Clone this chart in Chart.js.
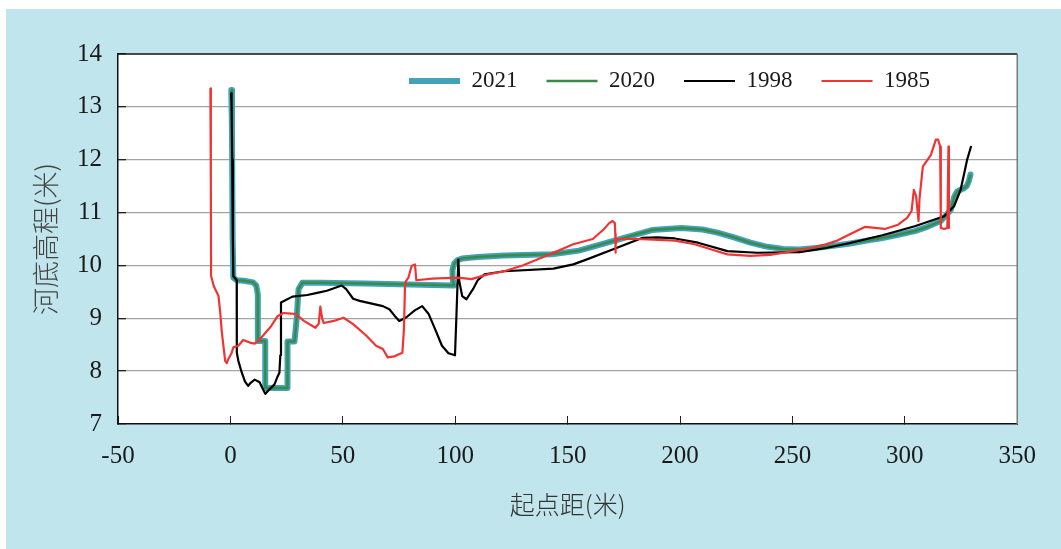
<!DOCTYPE html>
<html>
<head>
<meta charset="utf-8">
<script src="https://cdn.jsdelivr.net/npm/chart.js@4.4.1/dist/chart.umd.min.js"></script>
<style>
  html, body { margin: 0; padding: 0; background: #ffffff; }
  #wrap { width: 1061px; height: 549px; }
</style>
</head>
<body>
<div id="wrap"><canvas id="c" width="1061" height="549"></canvas></div>
<script>
// ---- data ----
const seriesNames = ['2021', '2020', '1998', '1985'];
const xTicks = [-50, 0, 50, 100, 150, 200, 250, 300, 350];
const yTicks = [7, 8, 9, 10, 11, 12, 13, 14];

const dist2021 = [0.4, 0.7, 1.0, 1.3, 2.8, 6, 10.1, 11.5, 12.2, 12.2, 13, 15.5, 15.5, 25.4, 25.4, 28.5, 29.5, 30.3, 32, 40, 60, 80, 99.5, 98.8, 98.8, 99.6, 101, 103, 110, 122, 143, 155, 170, 187.5, 200.6, 210, 216.7, 224, 231.3, 238, 245.9, 253, 260.5, 268, 275, 283, 290, 297, 304.4, 310, 316, 320.4, 322, 323.3, 326.2, 327.5, 328.4, 329.2];
const elev2021 = [13.32, 12.5, 10.5, 9.77, 9.72, 9.71, 9.68, 9.62, 9.45, 8.57, 8.57, 8.57, 7.68, 7.68, 8.56, 8.56, 9.0, 9.55, 9.67, 9.67, 9.66, 9.64, 9.62, 9.75, 9.92, 10.04, 10.10, 10.13, 10.16, 10.19, 10.21, 10.28, 10.46, 10.67, 10.71, 10.68, 10.62, 10.53, 10.43, 10.36, 10.31, 10.30, 10.33, 10.37, 10.41, 10.47, 10.52, 10.58, 10.65, 10.73, 10.84, 11.05, 11.3, 11.40, 11.46, 11.5, 11.59, 11.72];

const dist2020 = [0.4, 0.7, 1.0, 1.3, 2.8, 6, 10.1, 11.5, 12.2, 12.2, 13, 15.5, 15.5, 25.4, 25.4, 28.5, 29.5, 30.3, 32, 40, 60, 80, 99.5, 98.8, 98.8, 99.6, 101, 103, 110, 122, 143, 155, 170, 187.5, 200.6, 210, 216.7, 224, 231.3, 238, 245.9, 253, 260.5, 268, 275, 283, 290, 297, 304.4, 310, 316, 320.4, 322, 323.3, 326.2, 327.5, 328.4, 329.2];
const elev2020 = [13.32, 12.5, 10.5, 9.77, 9.72, 9.71, 9.68, 9.62, 9.45, 8.57, 8.57, 8.57, 7.68, 7.68, 8.56, 8.56, 9.0, 9.55, 9.67, 9.67, 9.66, 9.64, 9.62, 9.75, 9.92, 10.04, 10.10, 10.13, 10.16, 10.19, 10.21, 10.28, 10.46, 10.67, 10.71, 10.68, 10.62, 10.53, 10.43, 10.36, 10.31, 10.30, 10.33, 10.37, 10.41, 10.47, 10.52, 10.58, 10.65, 10.73, 10.84, 11.05, 11.3, 11.40, 11.46, 11.5, 11.59, 11.72];

const dist1998 = [0.3, 0.5, 0.8, 1.1, 1.3, 2.8, 2.8, 2.9, 3.5, 5, 6.5, 7.9, 9, 10.8, 13, 14.2, 15.5, 17.5, 19.6, 21, 21.8, 22.2, 22.5, 27.6, 34.2, 38.6, 42.9, 49.5, 51.5, 54.6, 57.5, 67.8, 70.7, 73, 75.1, 78, 82, 85.3, 88.2, 91, 94.1, 97, 99.9, 100.5, 101.4, 101.8, 103.1, 105, 107.9, 110, 113, 121.8, 143.7, 152.5, 158.3, 170, 183.1, 190, 197.7, 208, 221.1, 234.3, 253.2, 265, 275.1, 290, 304.4, 317.5, 321.9, 324.8, 326.3, 327.7, 329.5];
const elev1998 = [13.26, 13.1, 12.0, 10.5, 9.80, 9.72, 9.0, 8.35, 8.2, 7.98, 7.8, 7.72, 7.78, 7.84, 7.79, 7.68, 7.57, 7.66, 7.75, 7.9, 7.97, 8.3, 9.30, 9.41, 9.44, 9.48, 9.52, 9.62, 9.55, 9.37, 9.33, 9.23, 9.17, 9.05, 8.95, 9.01, 9.15, 9.23, 9.08, 8.8, 8.48, 8.34, 8.30, 9.0, 10.11, 9.7, 9.42, 9.36, 9.55, 9.72, 9.83, 9.89, 9.94, 10.02, 10.11, 10.30, 10.52, 10.53, 10.51, 10.43, 10.27, 10.24, 10.25, 10.33, 10.42, 10.57, 10.74, 10.93, 11.12, 11.43, 11.72, 12.0, 12.26];

const dist1985 = [-8.9, -8.7, -8.6, -7.4, -5.3, -4.5, -3.8, -2.3, -1.6, -0.9, 0.6, 1.3, 3.5, 5.7, 8.6, 10.8, 13, 18.1, 21, 23.5, 26.9, 29.1, 32.7, 37.8, 39.3, 40, 40.8, 41.5, 46, 50.3, 54.6, 60.5, 64.8, 67.8, 70, 73, 76.5, 77.2, 77.7, 78, 79.2, 80.6, 82.1, 82.7, 89.7, 101.4, 107.2, 114.5, 121.8, 130, 137, 143.7, 152.5, 161.2, 166, 168.5, 170, 171, 171.2, 171.2, 171.5, 172, 180.9, 197.7, 206.5, 214, 221.1, 231.3, 240, 250.3, 258, 264.9, 270, 275.1, 282.4, 291.1, 297, 301, 303, 304, 305, 306.1, 306.5, 308, 311.6, 313.8, 314.8, 315.7, 316, 317.5, 318.9, 319.4, 319.6];
const elev1985 = [13.35, 11.5, 9.80, 9.61, 9.42, 9.1, 8.73, 8.19, 8.15, 8.23, 8.35, 8.45, 8.48, 8.59, 8.54, 8.52, 8.60, 8.85, 9.04, 9.10, 9.09, 9.08, 8.95, 8.82, 8.9, 9.22, 9.0, 8.91, 8.95, 9.01, 8.89, 8.67, 8.48, 8.42, 8.26, 8.28, 8.35, 8.8, 9.67, 9.70, 9.77, 9.99, 10.02, 9.72, 9.75, 9.77, 9.74, 9.83, 9.89, 10.0, 10.12, 10.24, 10.40, 10.50, 10.68, 10.80, 10.84, 10.80, 10.6, 10.24, 10.40, 10.50, 10.50, 10.47, 10.40, 10.30, 10.21, 10.18, 10.20, 10.27, 10.33, 10.40, 10.47, 10.58, 10.73, 10.69, 10.77, 10.9, 11.03, 11.43, 11.31, 10.84, 11.25, 11.87, 12.09, 12.38, 12.38, 12.25, 10.71, 10.69, 10.71, 12.25, 10.71];

const toPts = (xs, ys) => xs.map((x, i) => ({ x: x, y: ys[i] }));

const serif = "'Liberation Serif', 'Times New Roman', serif";
const cjk = "'Noto Sans CJK SC', 'Noto Sans', sans-serif";

const bgPlugin = {
  id: 'bg',
  beforeDraw(chart) {
    const { ctx, width, height, chartArea } = chart;
    ctx.save();
    ctx.fillStyle = '#ffffff';
    ctx.fillRect(0, 0, width, height);
    ctx.fillStyle = '#c1e5ec';
    ctx.fillRect(6, 9, width - 6, height - 9);
    ctx.fillStyle = '#ffffff';
    ctx.fillRect(chartArea.left, chartArea.top, chartArea.right - chartArea.left, chartArea.bottom - chartArea.top);
    ctx.restore();
  },
  afterLayout(chart) {
    const lg = chart.legend;
    if (!lg) return;
    lg.left = 380;
    lg.right = 1040;
    lg.top = 40.5;
    lg.bottom = 130;
    lg.width = lg.right - lg.left;
    lg.height = lg.bottom - lg.top;
  },
  afterDraw(chart) {
    const { ctx, chartArea: a } = chart;
    ctx.save();
    ctx.lineWidth = 1.5;
    ctx.strokeStyle = '#111111';
    ctx.beginPath();
    ctx.moveTo(a.left, a.top);
    ctx.lineTo(a.right, a.top);
    ctx.stroke();
    ctx.strokeStyle = '#7a7a7a';
    ctx.beginPath();
    ctx.moveTo(a.right, a.top);
    ctx.lineTo(a.right, a.bottom);
    ctx.stroke();
    ctx.restore();
  }
};

const ds = [
  { label: seriesNames[0], data: toPts(dist2021, elev2021), borderColor: '#41a2ba', backgroundColor: '#41a2ba', borderWidth: 6, borderCapStyle: 'round', borderJoinStyle: 'round', order: 3 },
  { label: seriesNames[1], data: toPts(dist2020, elev2020), borderColor: '#3a8a4a', backgroundColor: '#3a8a4a', borderWidth: 2.5, borderJoinStyle: 'round', order: 2 },
  { label: seriesNames[2], data: toPts(dist1998, elev1998), borderColor: '#000000', backgroundColor: '#000000', borderWidth: 2.2, borderJoinStyle: 'round', order: 1 },
  { label: seriesNames[3], data: toPts(dist1985, elev1985), borderColor: '#f03434', backgroundColor: '#f03434', borderWidth: 2.2, borderJoinStyle: 'round', order: 0 }
];
ds.forEach(d => { d.showLine = true; d.pointRadius = 0; d.pointHoverRadius = 0; d.tension = 0; d.fill = false; });

new Chart(document.getElementById('c'), {
  type: 'scatter',
  data: { datasets: ds },
  plugins: [bgPlugin],
  options: {
    responsive: false,
    animation: false,
    devicePixelRatio: 1,
    layout: { padding: { left: 6, top: 53, right: 30, bottom: 0 } },
    plugins: {
      tooltip: { enabled: false },
      legend: {
        position: 'top',
        align: 'start',
        maxHeight: 1,
        labels: {
          usePointStyle: true,
          pointStyle: 'line',
          pointStyleWidth: 51,
          boxWidth: 51,
          padding: 29,
          color: '#1a1a1a',
          font: { family: serif, size: 23 },
          sort: (a, b) => a.datasetIndex - b.datasetIndex
        }
      }
    },
    scales: {
      x: {
        type: 'linear',
        min: xTicks[0],
        max: xTicks[xTicks.length - 1],
        afterBuildTicks: (s) => { s.ticks = xTicks.map(v => ({ value: v })); },
        afterFit: (s) => { s.height = 125; },
        ticks: { font: { family: serif, size: 25 }, color: '#1a1a1a', padding: 25, maxRotation: 0 },
        grid: { drawOnChartArea: false, tickLength: -8, color: '#222222', lineWidth: 1 },
        border: { color: '#111111', width: 1.5 },
        title: { display: true, text: '起点距(米)', font: { family: cjk, size: 25, weight: 300 }, color: '#333333', padding: { top: 0, bottom: 30 } }
      },
      y: {
        type: 'linear',
        min: yTicks[0],
        max: yTicks[yTicks.length - 1],
        afterBuildTicks: (s) => { s.ticks = yTicks.map(v => ({ value: v })); },
        afterFit: (s) => { s.width = 112; },
        ticks: { font: { family: serif, size: 25 }, color: '#1a1a1a', padding: 24 },
        grid: {
          tickLength: -8,
          lineWidth: 1.3,
          color: (c) => (c.tick && (c.tick.value === 7 || c.tick.value === 14)) ? 'rgba(0,0,0,0)' : '#a3a3a3',
          tickColor: '#222222'
        },
        border: { color: '#111111', width: 1.5 },
        title: { display: true, text: '河底高程(米)', font: { family: cjk, size: 27, weight: 300 }, color: '#444444', padding: { top: 24, bottom: 0 } }
      }
    }
  }
});
</script>
</body>
</html>
